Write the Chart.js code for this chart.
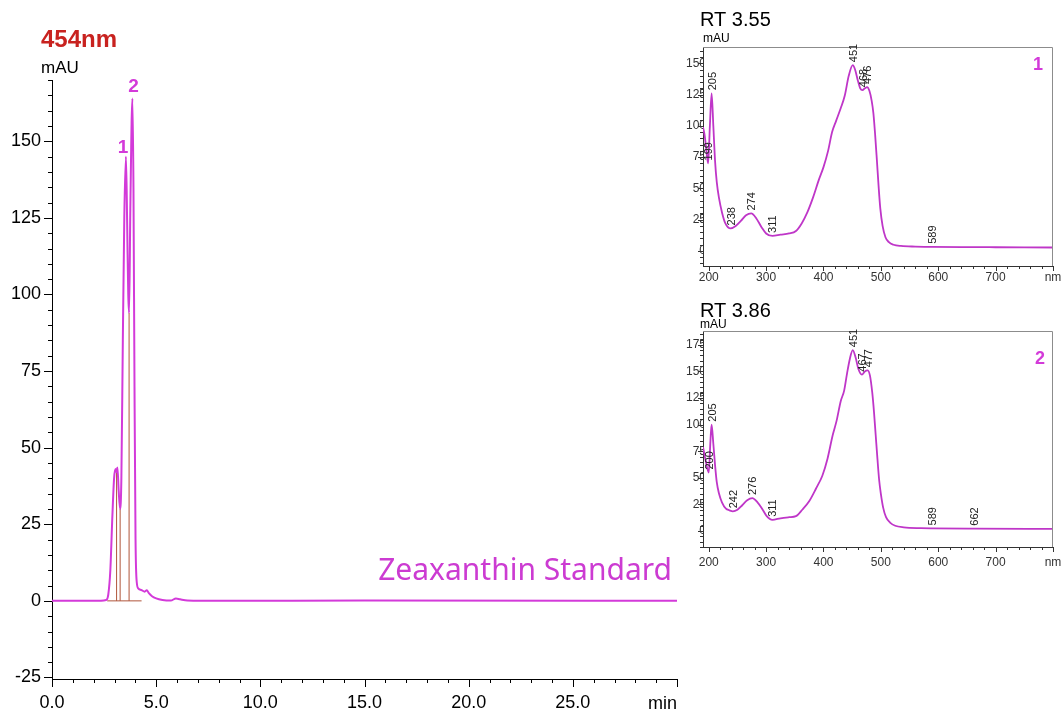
<!DOCTYPE html>
<html>
<head>
<meta charset="utf-8">
<script src="https://cdn.jsdelivr.net/npm/chart.js@4.4.1/dist/chart.umd.min.js"></script>
<style>
  body { margin: 0; background: #fff; width: 1064px; height: 715px; position: relative; overflow: hidden; }
  canvas { position: absolute; }
  #main { left: 0; top: 0; }
  #spec1 { left: 680px; top: 0; }
  #spec2 { left: 680px; top: 290px; }
</style>
</head>
<body>
<canvas id="main" width="700" height="715"></canvas>
<canvas id="spec1" width="384" height="290"></canvas>
<canvas id="spec2" width="384" height="290"></canvas>
<script>
// chromatogram, 454 nm
const rtMin = [0, 2.0, 2.6, 2.7, 2.8, 2.9, 2.98, 3.05, 3.10, 3.14, 3.20, 3.27, 3.33, 3.40, 3.47, 3.55,
  3.61, 3.66, 3.70, 3.76, 3.86, 3.91, 3.96, 4.01, 4.07, 4.15, 4.3, 4.45, 4.55, 4.65, 4.8, 5.0,
  5.3, 5.7, 5.95, 6.15, 6.5, 8.0, 15.0, 30.0];
const mAU454 = [0, 0, 0.3, 2, 10, 28, 40, 43, 42, 43.5, 36, 30, 40, 85, 125, 145,
  122, 100, 94, 128, 164, 135, 70, 20, 6, 4, 3.5, 3, 3.5, 2.5, 1.5, 0.8,
  0.3, 0.1, 0.8, 0.5, 0.1, 0, 0.1, 0];
const peakNames = ['1', '2'];
const peakRT = [3.55, 3.86];
const dropRT = [3.10, 3.27, 3.70];
const timeTicks = [0, 5, 10, 15, 20, 25, 30];
const mainTicks = [-25, 0, 25, 50, 75, 100, 125, 150];

// UV-Vis spectrum at RT 3.55
const nm1 = [190, 193, 196, 199, 202, 205, 208, 211, 214, 218, 223, 229, 238, 247, 256, 265, 274, 283,
  292, 300, 311, 325, 340, 352, 362, 372, 382, 392, 400, 408, 415, 422, 430, 437, 444, 451, 455,
  460, 464, 468, 472, 476, 480, 484, 487, 490, 493, 496, 499, 503, 508, 514, 522, 535, 560, 589,
  650, 700, 800];
const abs1 = [99, 92, 80, 70, 100, 126, 100, 72, 55, 42, 31, 22, 18, 20, 24, 28.5, 30, 26,
  19, 14, 12, 13, 14, 16, 22, 31, 43, 57, 67, 80, 95, 104, 114, 124, 140, 148.5, 145,
  136, 130, 128.5, 130, 131, 128, 120, 110, 93, 73, 52, 34, 20, 11, 7, 5, 4, 3.5, 3.3,
  3.1, 3, 2.8];
const marked1 = [199, 205, 238, 274, 311, 451, 468, 476, 589];
const specTicks1 = [0, 25, 50, 75, 100, 125, 150];

// UV-Vis spectrum at RT 3.86
const nm2 = [190, 194, 200, 203, 205, 208, 211, 214, 218, 223, 230, 236, 242, 250, 258, 267, 276, 285,
  293, 301, 311, 325, 340, 352, 363, 375, 387, 398, 407, 416, 423, 430, 436, 441, 446, 451, 456,
  461, 467, 472, 477, 481, 485, 488, 491, 494, 497, 500, 504, 509, 516, 525, 540, 570, 589,
  662, 800];
const abs2 = [79, 68, 55, 85, 100, 82, 62, 46, 35, 27, 21, 19.5, 18.5, 20, 24, 29, 31, 27,
  21, 14, 10.5, 12, 13, 14, 20, 28, 40, 52, 68, 90, 104, 122, 132, 148, 162, 170, 163,
  152, 147, 150, 151, 146, 130, 112, 90, 68, 48, 35, 22, 13, 8, 5, 3.5, 2.7, 2.5,
  2.2, 2];
const marked2 = [200, 205, 242, 276, 311, 451, 467, 477, 589, 662];
const specTicks2 = [0, 25, 50, 75, 100, 125, 150, 175];

const nmTicks = [200, 300, 400, 500, 600, 700, 800];

const TRACE = '#d33ad9';
const SPEC = '#bf36c8';
const SANS = '"Liberation Sans", Arial, sans-serif';

// major/minor tick marks outside the left and bottom axes, optional top/right frame
function tickMarks(o) {
  return {
    id: 'tickMarks',
    afterDraw(chart) {
      const { ctx, chartArea: a, scales: { x, y } } = chart;
      ctx.save();
      ctx.strokeStyle = o.color;
      ctx.lineWidth = 1;
      ctx.beginPath();
      const x0 = Math.ceil(x.min / o.xMinor) * o.xMinor;
      for (let v = x0; v <= x.max + 1e-6; v += o.xMinor) {
        const px = Math.round(x.getPixelForValue(v)) + 0.5;
        const major = Math.abs(v / o.xMajor - Math.round(v / o.xMajor)) < 1e-6;
        ctx.moveTo(px, a.bottom);
        ctx.lineTo(px, a.bottom + (major ? o.majorLen : o.minorLen));
      }
      const y0 = Math.ceil(y.min / o.yMinor) * o.yMinor;
      for (let v = y0; v <= y.max + 1e-6; v += o.yMinor) {
        const py = Math.round(y.getPixelForValue(v)) + 0.5;
        const major = Math.abs(v / o.yMajor - Math.round(v / o.yMajor)) < 1e-6;
        ctx.moveTo(a.left, py);
        ctx.lineTo(a.left - (major ? o.majorLen : o.minorLen), py);
      }
      ctx.stroke();
      if (o.frame) {
        ctx.strokeStyle = o.frame;
        ctx.beginPath();
        ctx.moveTo(a.left, a.top + 0.5);
        ctx.lineTo(a.right - 0.5, a.top + 0.5);
        ctx.lineTo(a.right - 0.5, a.bottom);
        ctx.stroke();
      }
      ctx.restore();
    }
  };
}

// free text plus labels tied to data points
function textLayer(texts) {
  return {
    id: 'textLayer',
    afterDraw(chart) {
      const { ctx, scales: { x, y } } = chart;
      texts.forEach(t => {
        ctx.save();
        ctx.font = t.font;
        ctx.fillStyle = t.color || '#000';
        ctx.textAlign = t.align || 'left';
        ctx.textBaseline = 'alphabetic';
        let px = t.px, py = t.py;
        if (t.at) {
          px = x.getPixelForValue(t.at[0]) + (t.dx || 0);
          py = y.getPixelForValue(t.at[1]) + (t.dy || 0);
        }
        if (t.rotate) {
          ctx.translate(px, py);
          ctx.rotate(-Math.PI / 2);
          ctx.textBaseline = 'middle';
          ctx.fillText(t.text, 0, 0);
        } else {
          ctx.fillText(t.text, px, py);
        }
        ctx.restore();
      });
    }
  };
}

function valueAt(xs, ys, v) {
  return ys[xs.indexOf(v)];
}

// keep the plot box where the layout puts it, labels may hang over the edge
function fixX(h) {
  return s => { s.height = h; s.paddingLeft = 0; s.paddingRight = 0; };
}

// main chromatogram
const drops = dropRT.map(t => ({
  data: [{ x: t, y: 0 }, { x: t, y: valueAt(rtMin, mAU454, t) }],
  borderColor: '#b0553a', borderWidth: 1, pointRadius: 0, tension: 0
}));

const mainTexts = [
  { text: '454nm', px: 41, py: 47, font: `bold 24px ${SANS}`, color: '#c8221f' },
  { text: 'mAU', px: 41, py: 73, font: `17px ${SANS}` },
  { text: 'Zeaxanthin Standard', px: 672, py: 580, align: 'right', font: '30px "Noto Sans", sans-serif', color: '#cc3bd2' },
  { text: 'min', px: 677, py: 709, align: 'right', font: `18px ${SANS}` },
  ...peakNames.map((n, i) => ({
    text: n, at: [peakRT[i], valueAt(rtMin, mAU454, peakRT[i])],
    dx: i === 0 ? -3 : 1, dy: i === 0 ? -4 : -6, align: 'center',
    font: `bold 19px ${SANS}`, color: TRACE
  }))
];

new Chart(document.getElementById('main'), {
  type: 'line',
  data: {
    datasets: [
      {
        data: rtMin.map((t, i) => ({ x: t, y: mAU454[i] })),
        borderColor: TRACE, borderWidth: 2, pointRadius: 0,
        cubicInterpolationMode: 'monotone'
      },
      {
        data: [{ x: 2.65, y: 0 }, { x: 4.3, y: 0 }],
        borderColor: '#b0553a', borderWidth: 1, pointRadius: 0
      },
      ...drops
    ]
  },
  plugins: [
    tickMarks({ color: '#000', xMajor: 5, xMinor: 1, yMajor: 25, yMinor: 5, majorLen: 8, minorLen: 4 }),
    textLayer(mainTexts)
  ],
  options: {
    responsive: false,
    animation: false,
    layout: { padding: { top: 80, right: 23, left: 0, bottom: 0 } },
    plugins: { legend: { display: false }, tooltip: { enabled: false } },
    scales: {
      x: {
        type: 'linear', min: 0, max: 30,
        afterFit: fixX(36),
        afterBuildTicks: s => { s.ticks = timeTicks.map(v => ({ value: v })); },
        grid: { display: false, drawTicks: false },
        border: { color: '#000', width: 1 },
        ticks: {
          padding: 13, maxRotation: 0, autoSkip: false,
          color: '#000', font: { family: SANS, size: 18 },
          callback: v => v === 30 ? '' : v.toFixed(1)
        }
      },
      y: {
        type: 'linear', min: -25.5, max: 170,
        afterFit: s => { s.width = 52; },
        afterBuildTicks: s => { s.ticks = mainTicks.map(v => ({ value: v })); },
        grid: { display: false, drawTicks: false },
        border: { color: '#000', width: 1 },
        ticks: { padding: 11, color: '#000', font: { family: SANS, size: 18 } }
      }
    }
  }
});

// spectrum insets
function spectrum(id, nm, abs, marked, yMin, yMax, yTicks, top, xHeight, xPad, texts) {
  const pts = marked.map(w => ({
    text: String(w), at: [w, valueAt(nm, abs, w)], dx: 1, dy: -3,
    rotate: true, font: `11px ${SANS}`, color: '#222'
  }));
  new Chart(document.getElementById(id), {
    type: 'line',
    data: {
      datasets: [{
        data: nm.map((w, i) => ({ x: w, y: abs[i] })),
        borderColor: SPEC, borderWidth: 1.8, pointRadius: 0,
        cubicInterpolationMode: 'monotone'
      }]
    },
    plugins: [
      tickMarks({ color: '#333', xMajor: 100, xMinor: 20, yMajor: 25, yMinor: 5, majorLen: 5, minorLen: 3, frame: '#8c8c8c' }),
      textLayer(texts.concat(pts))
    ],
    options: {
      responsive: false,
      animation: false,
      layout: { padding: { top: top, right: 11, left: 0, bottom: 0 } },
      plugins: { legend: { display: false }, tooltip: { enabled: false } },
      scales: {
        x: {
          type: 'linear', min: 190, max: 800,
          afterFit: fixX(xHeight),
          afterBuildTicks: s => { s.ticks = nmTicks.map(v => ({ value: v })); },
          grid: { display: false, drawTicks: false },
          border: { color: '#333', width: 1 },
          ticks: {
            padding: xPad, maxRotation: 0, autoSkip: false,
            color: '#333', font: { family: SANS, size: 12 },
            callback: v => v === 800 ? 'nm' : v
          }
        },
        y: {
          type: 'linear', min: yMin, max: yMax,
          afterFit: s => { s.width = 23; s.paddingTop = 0; s.paddingBottom = 0; },
          afterBuildTicks: s => { s.ticks = yTicks.map(v => ({ value: v })); },
          grid: { display: false, drawTicks: false },
          border: { color: '#333', width: 1 },
          ticks: { padding: -3, color: '#333', font: { family: SANS, size: 12 } }
        }
      }
    }
  });
}

spectrum('spec1', nm1, abs1, marked1, -12, 163, specTicks1, 47, 24, 4, [
  { text: 'RT 3.55', px: 20, py: 26, font: `20px ${SANS}` },
  { text: 'mAU', px: 23, py: 41.5, font: `12px ${SANS}` },
  { text: '1', px: 358, py: 70, align: 'center', font: `bold 18px ${SANS}`, color: TRACE }
]);

spectrum('spec2', nm2, abs2, marked2, -15, 188, specTicks2, 41, 33, 8, [
  { text: 'RT 3.86', px: 20, py: 317, font: `20px ${SANS}` },
  { text: 'mAU', px: 20, py: 327.5, font: `12px ${SANS}` },
  { text: '2', px: 360, py: 364, align: 'center', font: `bold 18px ${SANS}`, color: TRACE }
].map(t => Object.assign(t, { py: t.py - 290 })));
</script>
</body>
</html>
